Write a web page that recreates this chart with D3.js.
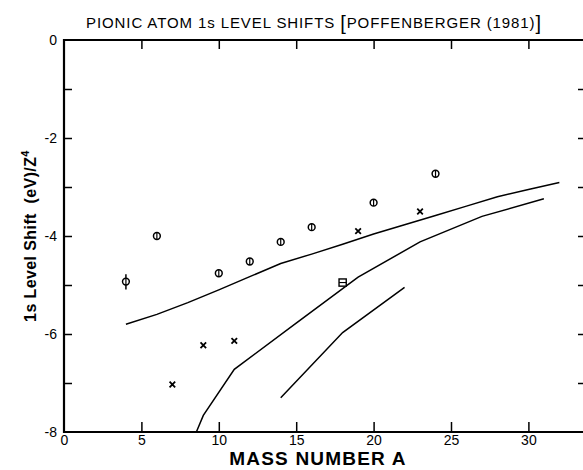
<!DOCTYPE html>
<html>
<head>
<meta charset="utf-8">
<script src="https://cdn.jsdelivr.net/npm/d3@7"></script>
<style>
  html, body { margin: 0; padding: 0; background: #fff; }
  svg { display: block; }
  text { font-family: "Liberation Sans", "DejaVu Sans", Arial, sans-serif; fill: #000; }
</style>
</head>
<body>
<svg id="chart" width="583" height="470"></svg>
<script>
// ---- data ----
const title = "PIONIC ATOM 1s LEVEL SHIFTS ";
const titleRef = "POFFENBERGER (1981)";
const xLabel = "MASS NUMBER A";
const yLabel = "1s Level Shift\u00A0\u00A0(eV)/Z";
const xTicks = [0, 5, 10, 15, 20, 25, 30];
const yTicks = [0, -1, -2, -3, -4, -5, -6, -7, -8];

// measured points: circles (with vertical bar), crosses, square
const circleA = [4, 6, 10, 12, 14, 16, 20, 24];
const circleShift = [-4.93, -4.0, -4.76, -4.52, -4.12, -3.82, -3.32, -2.73];
const errA = [4];
const errLow = [-5.09];
const errHigh = [-4.78];
const crossA = [7, 9, 11, 19, 23];
const crossShift = [-7.03, -6.23, -6.14, -3.9, -3.5];
const squareA = [18];
const squareShift = [-4.95];

// theory curves
const curve1A = [4, 6, 8, 10, 12, 14, 16, 18, 20, 22, 24, 26, 28, 30, 32];
const curve1 = [-5.8, -5.6, -5.36, -5.1, -4.83, -4.56, -4.37, -4.17, -3.96, -3.77, -3.58, -3.39, -3.2, -3.05, -2.91];
const curve2A = [8.55, 9, 11, 15, 19, 23, 27, 31];
const curve2 = [-8.0, -7.66, -6.72, -5.78, -4.84, -4.12, -3.6, -3.24];
const curve3A = [14, 18, 22];
const curve3 = [-7.3, -5.97, -5.05];

// ---- layout ----
const svg = d3.select("#chart");
const x = d3.scaleLinear().domain([0, 30]).range([64, 528.4]);
const y = d3.scaleLinear().domain([0, -8]).range([40, 432]);
const xRight = x(33.72);

// axes (inward ticks)
const gBottom = svg.append("g").attr("transform", `translate(0,${y(-8)})`)
  .call(d3.axisBottom(x).tickValues(xTicks).tickSizeInner(-10).tickSizeOuter(0).tickPadding(3).tickFormat(d => String(d)));
const gTop = svg.append("g").attr("transform", `translate(0,${y(0)})`)
  .call(d3.axisTop(x).tickValues(xTicks.slice(1)).tickSizeInner(-9).tickSizeOuter(0).tickFormat(""));
const gLeft = svg.append("g").attr("transform", `translate(${x(0)},0)`)
  .call(d3.axisLeft(y).tickValues(yTicks).tickSizeInner(-8).tickSizeOuter(0).tickPadding(7)
    .tickFormat(d => (d % 2 === 0 ? String(d) : "")));
const gRight = svg.append("g").attr("transform", `translate(${xRight},0)`)
  .call(d3.axisRight(y).tickValues(yTicks.slice(1, -1)).tickSizeInner(-8).tickSizeOuter(0).tickFormat(""));

[gBottom, gTop, gLeft, gRight].forEach(g => {
  g.select(".domain").remove();
  g.selectAll(".tick line").attr("stroke", "#000").attr("stroke-width", 1.5);
  g.selectAll(".tick text").attr("font-size", 14).attr("font-weight", 500)
    .attr("font-family", "Liberation Sans, DejaVu Sans, sans-serif").attr("fill", "#000");
});
gLeft.selectAll(".tick").filter(d => d === 0 || d === -8).select("line").remove();
gBottom.selectAll(".tick").filter(d => d === 0).select("line").remove();

// frame
svg.append("path")
  .attr("d", `M${xRight},${y(0)}H${x(0)}V${y(-8)}H${xRight}`)
  .attr("fill", "none").attr("stroke", "#000").attr("stroke-width", 2.2);

// theory curves
const line = d3.line().x(d => x(d[0])).y(d => y(d[1]));
[[curve1A, curve1], [curve2A, curve2], [curve3A, curve3]].forEach(([a, v]) => {
  svg.append("path")
    .datum(a.map((ai, i) => [ai, v[i]]))
    .attr("d", line)
    .attr("fill", "none").attr("stroke", "#000").attr("stroke-width", 1.5);
});

// error bar
svg.selectAll(".err").data(errA).enter().append("line")
  .attr("x1", d => x(d)).attr("x2", d => x(d))
  .attr("y1", (d, i) => y(errLow[i])).attr("y2", (d, i) => y(errHigh[i]))
  .attr("stroke", "#000").attr("stroke-width", 1.5);

// circles with vertical bar
const cg = svg.selectAll(".circ").data(circleA).enter().append("g")
  .attr("transform", (d, i) => `translate(${x(d)},${y(circleShift[i])})`);
cg.append("circle").attr("r", 3.4).attr("fill", "#fff").attr("stroke", "#000").attr("stroke-width", 1.5);
cg.append("line").attr("x1", 0).attr("x2", 0).attr("y1", -3.4).attr("y2", 3.4).attr("stroke", "#000").attr("stroke-width", 1.2);

// crosses
const xg = svg.selectAll(".cross").data(crossA).enter().append("g")
  .attr("transform", (d, i) => `translate(${x(d)},${y(crossShift[i])})`);
xg.append("path").attr("d", "M-2.8,-2.8L2.8,2.8M-2.8,2.8L2.8,-2.8")
  .attr("stroke", "#000").attr("stroke-width", 1.8);

// square
const sg = svg.selectAll(".sq").data(squareA).enter().append("g")
  .attr("transform", (d, i) => `translate(${x(d)},${y(squareShift[i])})`);
sg.append("rect").attr("x", -3.6).attr("y", -3.6).attr("width", 7.2).attr("height", 7.2)
  .attr("fill", "#fff").attr("stroke", "#000").attr("stroke-width", 1.4);
sg.append("line").attr("x1", -3.6).attr("x2", 3.6).attr("y1", 0).attr("y2", 0).attr("stroke", "#000").attr("stroke-width", 1.1);

// title
const t = svg.append("text").attr("x", 314).attr("y", 28).attr("text-anchor", "middle")
  .attr("font-size", 15).attr("font-weight", 500).attr("letter-spacing", 0.9);
t.append("tspan").text(title);
t.append("tspan").attr("font-size", 20).attr("dy", 2).text("[");
t.append("tspan").attr("font-size", 15).attr("dy", -2).text(titleRef);
t.append("tspan").attr("font-size", 20).attr("dy", 2).text("]");

// x label
svg.append("text").attr("x", 318).attr("y", 465).attr("text-anchor", "middle")
  .attr("font-size", 19).attr("font-weight", "bold").attr("letter-spacing", 1.2).text(xLabel);

// y label
const yl = svg.append("text").attr("transform", `translate(36,236) rotate(-90)`)
  .attr("text-anchor", "middle").attr("font-size", 16).attr("font-weight", "bold").attr("letter-spacing", 0.4);
yl.append("tspan").text(yLabel);
yl.append("tspan").attr("font-size", 11).attr("dy", -7).text("4");
</script>
</body>
</html>
